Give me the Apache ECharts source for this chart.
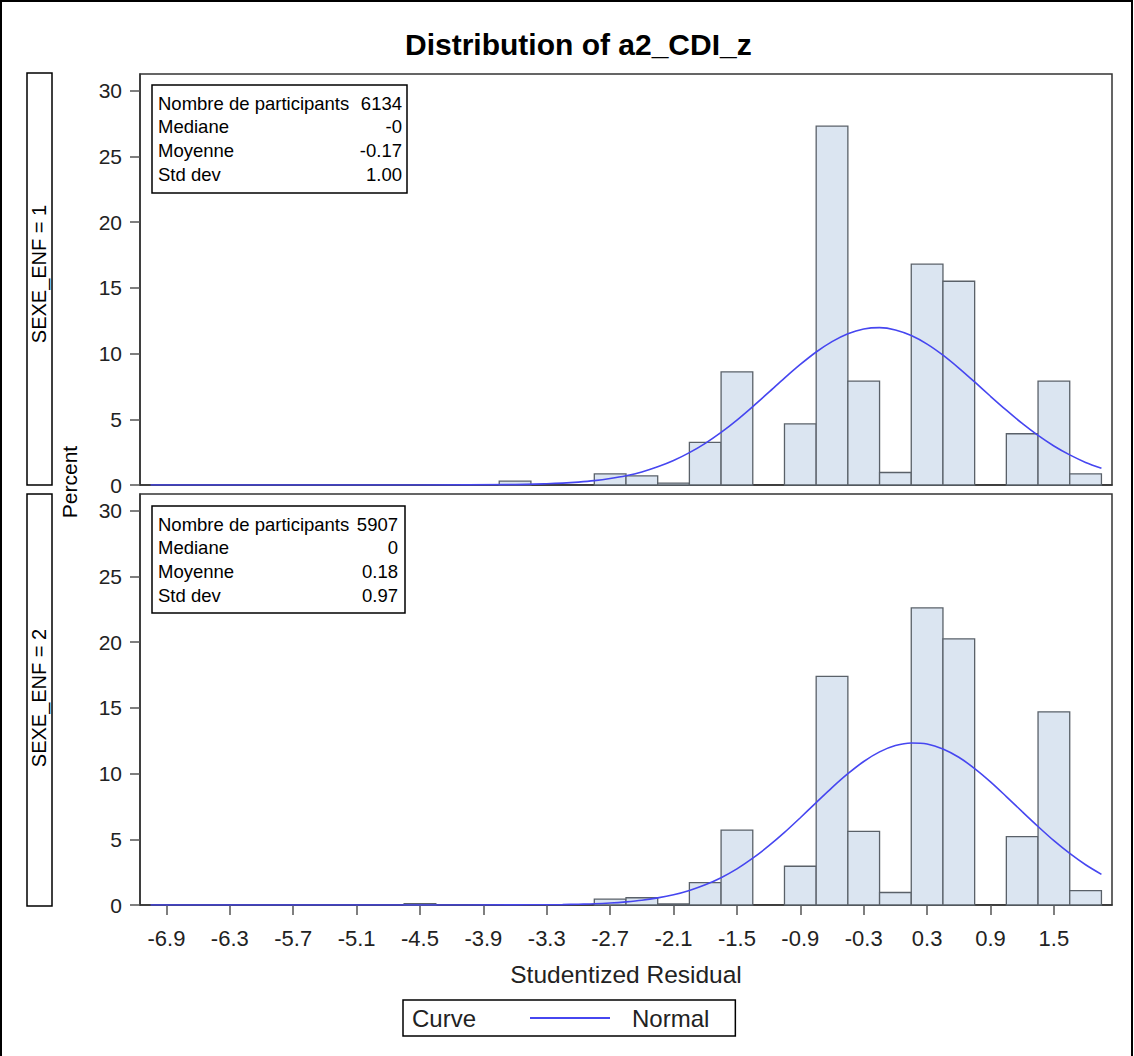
<!DOCTYPE html>
<html><head><meta charset="utf-8">
<script src="https://cdn.jsdelivr.net/npm/echarts@6/dist/echarts.min.js"></script>
<style>html,body{margin:0;padding:0;background:#fff}#c{width:1134px;height:1056px}</style>
</head><body><div id="c"></div>
<script>
// ---- data ----
const binWidth = 0.3;
const binCenters = [-4.5, -3.6, -2.7, -2.4, -2.1, -1.8, -1.5, -1.2, -0.9, -0.6, -0.3, 0, 0.3, 0.6, 0.9, 1.2, 1.5, 1.8];
const pctSexe1   = [0,    0.3,  0.85, 0.7,  0.15, 3.25, 8.6,  0,    4.65, 27.3, 7.9,  0.95, 16.8, 15.5, 0,   3.9,  7.9,  0.85];
const pctSexe2   = [0.1,  0,    0.45, 0.55, 0.08, 1.7,  5.7,  0,    2.95, 17.4, 5.6,  0.95, 22.6, 20.25, 0,  5.2,  14.7, 1.1];
// normal curve, read along the x axis
const curveX     = [-7.05, -4.5, -3.6, -3.3, -3.15, -3.0, -2.85, -2.7, -2.55, -2.4, -2.25, -2.1, -1.95, -1.8, -1.65, -1.5, -1.35, -1.2, -1.05, -0.9, -0.75, -0.6, -0.45, -0.3, -0.15, 0, 0.15, 0.3, 0.45, 0.6, 0.75, 0.9, 1.05, 1.2, 1.35, 1.5, 1.65, 1.8, 1.95];
const curveSexe1 = [0, 0, 0.03, 0.09, 0.14, 0.22, 0.33, 0.49, 0.70, 0.99, 1.38, 1.86, 2.46, 3.17, 4.00, 4.94, 5.97, 7.04, 8.13, 9.17, 10.12, 10.91, 11.51, 11.87, 11.97, 11.80, 11.37, 10.72, 9.88, 8.90, 7.84, 6.75, 5.69, 4.68, 3.77, 2.97, 2.29, 1.72, 1.27];
const curveSexe2 = [0, 0, 0.01, 0.02, 0.03, 0.06, 0.09, 0.15, 0.24, 0.36, 0.54, 0.78, 1.11, 1.54, 2.08, 2.75, 3.56, 4.49, 5.52, 6.64, 7.79, 8.93, 9.99, 10.92, 11.65, 12.13, 12.33, 12.25, 11.87, 11.24, 10.38, 9.37, 8.25, 7.10, 5.97, 4.89, 3.92, 3.06, 2.33];
const xTicks = [-6.9, -6.3, -5.7, -5.1, -4.5, -3.9, -3.3, -2.7, -2.1, -1.5, -0.9, -0.3, 0.3, 0.9, 1.5];
const yTicks = [0, 5, 10, 15, 20, 25, 30];
const statLabels = ['Nombre de participants', 'Mediane', 'Moyenne', 'Std dev'];
const statsSexe1 = ['6134', '-0', '-0.17', '1.00'];
const statsSexe2 = ['5907', '0', '0.18', '0.97'];
const stripLabels = ['SEXE_ENF = 1', 'SEXE_ENF = 2'];
const titleText = 'Distribution of a2_CDI_z';
const xTitle = 'Studentized Residual';
const yTitle = 'Percent';

// ---- chart ----
const FONT = "'Liberation Sans', Arial, sans-serif";
const chart = echarts.init(document.getElementById('c'), null, {renderer: 'svg'});

function barItem(params, api) {
  const x = api.value(0), y = api.value(1);
  const p0 = api.coord([x - binWidth / 2, y]);
  const p1 = api.coord([x + binWidth / 2, 0]);
  return {
    type: 'rect',
    shape: {x: p0[0], y: p0[1], width: p1[0] - p0[0], height: p1[1] - p0[1]},
    style: {fill: '#dbe5f1', stroke: '#5a6169', lineWidth: 1.3}
  };
}
function bars(pct) { return binCenters.map((c, i) => [c, pct[i]]).filter(d => d[1] > 0); }
function curve(v) { return curveX.map((x, i) => [x, v[i]]); }

function statBox(x, y, w, h, vals, rx) {
  const els = [{type: 'rect', shape: {x: x, y: y, width: w, height: h},
    style: {fill: '#fff', stroke: '#000', lineWidth: 1.5}}];
  statLabels.forEach((lab, i) => {
    const cy = y + 18 + 23.8 * i;
    els.push({type: 'text', x: x + 6, y: cy, style: {text: lab, font: "18.5px " + FONT, fill: '#000', align: 'left', verticalAlign: 'middle', textAlign: 'left', textVerticalAlign: 'middle'}});
    els.push({type: 'text', x: rx, y: cy, style: {text: vals[i], font: "18.5px " + FONT, fill: '#000', align: 'right', verticalAlign: 'middle', textAlign: 'right', textVerticalAlign: 'middle'}});
  });
  return els;
}
function vtext(x, y, t, size) {
  return {type: 'text', x: x, y: y, rotation: Math.PI / 2,
    style: {text: t, font: size + "px " + FONT, fill: '#000', align: 'center', verticalAlign: 'middle', textAlign: 'center', textVerticalAlign: 'middle'}};
}

const yAxisBase = (gi) => ({
  type: 'value', gridIndex: gi, min: 0, max: 31.27,
  axisLine: {show: true, onZero: false, lineStyle: {color: '#333', width: 1.5}},
  axisTick: {show: true, length: 10, customValues: yTicks, lineStyle: {color: '#555', width: 1.5}},
  axisLabel: {customValues: yTicks, fontSize: 21, color: '#222', margin: 18, fontFamily: FONT},
  splitLine: {show: false}
});

chart.setOption({
  animation: false,
  backgroundColor: '#fff',
  title: {text: titleText, left: 400, top: 24,
    textStyle: {fontSize: 30, fontWeight: 'bold', color: '#000', fontFamily: FONT}},
  grid: [
    {left: 140, top: 74, width: 972, height: 411, show: true, borderColor: '#333', borderWidth: 1.5},
    {left: 140, top: 494, width: 972, height: 411, show: true, borderColor: '#333', borderWidth: 1.5}
  ],
  xAxis: [
    {type: 'value', gridIndex: 0, min: -7.15, max: 2.05,
      axisLine: {show: true, onZero: false, lineStyle: {color: '#333', width: 1.5}},
      axisTick: {show: false}, axisLabel: {show: false}, splitLine: {show: false}},
    {type: 'value', gridIndex: 1, min: -7.15, max: 2.05,
      name: xTitle, nameLocation: 'middle', nameGap: 57,
      nameTextStyle: {fontSize: 24.5, color: '#222', fontFamily: FONT},
      axisLine: {show: true, onZero: false, lineStyle: {color: '#333', width: 1.5}},
      axisTick: {show: true, length: 10, customValues: xTicks, lineStyle: {color: '#555', width: 1.5}},
      axisLabel: {customValues: xTicks, fontSize: 22, color: '#222', margin: 22, fontFamily: FONT,
        formatter: v => Number(v).toFixed(1)},
      splitLine: {show: false}}
  ],
  yAxis: [yAxisBase(0), yAxisBase(1)],
  legend: {left: 403, top: 1000, data: ['Normal'], icon: 'rect', itemWidth: 80, itemHeight: 2,
    padding: [6, 26, 6, 127], borderColor: '#000', borderWidth: 1.5,
    textStyle: {fontSize: 24, color: '#222', fontFamily: FONT, padding: [0, 0, 0, 17]}},
  series: [
    {type: 'custom', name: 'bars1', xAxisIndex: 0, yAxisIndex: 0, renderItem: barItem, data: bars(pctSexe1), z: 2},
    {type: 'custom', name: 'bars2', xAxisIndex: 1, yAxisIndex: 1, renderItem: barItem, data: bars(pctSexe2), z: 2},
    {type: 'line', name: 'Normal', xAxisIndex: 0, yAxisIndex: 0, data: curve(curveSexe1), smooth: 0.3,
      showSymbol: false, color: '#4646f0', lineStyle: {width: 1.6, color: '#4646f0'}, z: 3},
    {type: 'line', name: 'Normal', xAxisIndex: 1, yAxisIndex: 1, data: curve(curveSexe2), smooth: 0.3,
      showSymbol: false, color: '#4646f0', lineStyle: {width: 1.6, color: '#4646f0'}, z: 3}
  ],
  graphic: {elements: [
    {type: 'rect', shape: {x: 1, y: 1, width: 1131, height: 1100}, style: {fill: 'none', stroke: '#000', lineWidth: 2}, silent: true},
    {type: 'rect', shape: {x: 27, y: 73, width: 25, height: 412}, style: {fill: '#fff', stroke: '#000', lineWidth: 1.5}},
    {type: 'rect', shape: {x: 27, y: 494, width: 25, height: 412}, style: {fill: '#fff', stroke: '#000', lineWidth: 1.5}},
    vtext(39, 274, stripLabels[0], 20),
    vtext(39, 698, stripLabels[1], 20),
    vtext(69, 482, yTitle, 21),
    {type: 'text', x: 412, y: 1018, style: {text: 'Curve', font: "24px " + FONT, fill: '#222', align: 'left', verticalAlign: 'middle', textAlign: 'left', textVerticalAlign: 'middle'}}
  ].concat(statBox(152, 85, 255, 108, statsSexe1, 402)).concat(statBox(152, 506, 253, 107, statsSexe2, 398))}
});
</script></body></html>
